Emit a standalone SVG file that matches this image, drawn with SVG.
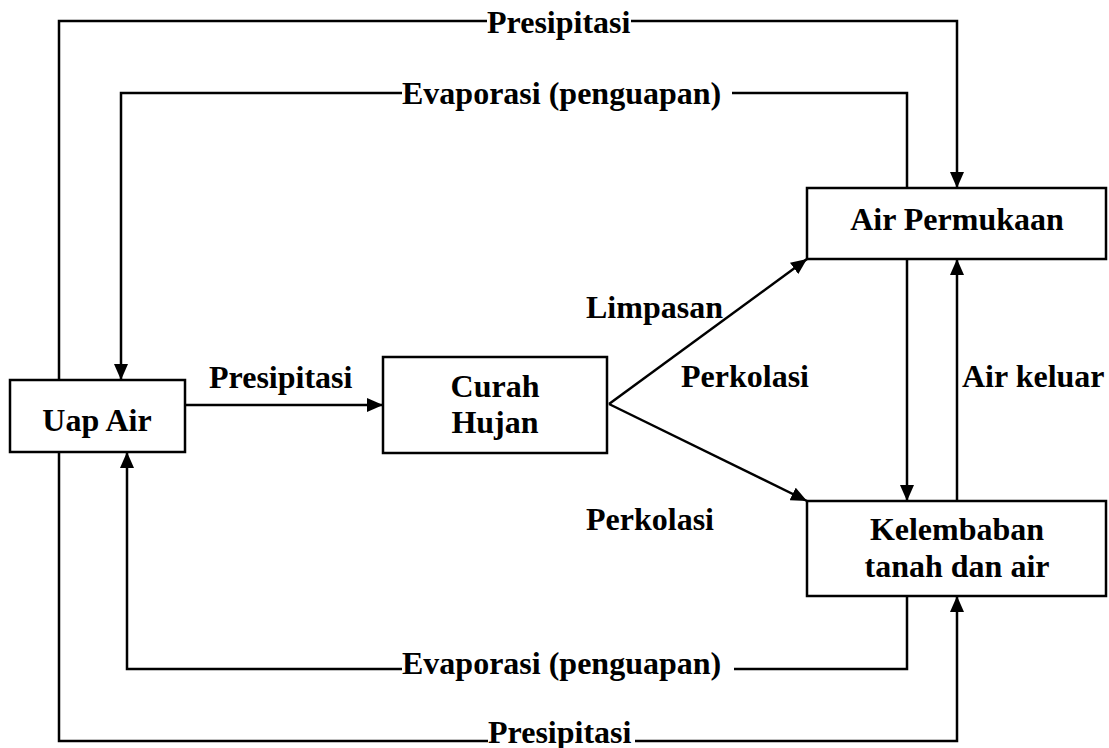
<svg xmlns="http://www.w3.org/2000/svg" width="1109" height="748" viewBox="0 0 1109 748">
<style>
.box{fill:#fff;stroke:#000;stroke-width:2.5}
.ln{fill:none;stroke:#000;stroke-width:2.5}
text{font-family:"Liberation Serif","Times New Roman",serif;font-weight:bold;font-size:32px;fill:#000}
.c{text-anchor:middle}
</style>
<defs>
<marker id="ah" markerUnits="userSpaceOnUse" markerWidth="16" markerHeight="14" refX="16" refY="7" orient="auto">
<path d="M0,0 L16,7 L0,14 z" fill="#000"/>
</marker>
</defs>
<rect width="1109" height="748" fill="#fff"/>
<g id="connectors">
<path class="ln" d="M59,380 V21 H487"/>
<path class="ln" d="M631,21 H957 V188" marker-end="url(#ah)"/>
<path class="ln" d="M907,188 V93 H732"/>
<path class="ln" d="M402,93 H121 V380" marker-end="url(#ah)"/>
<path class="ln" d="M185,405 H383" marker-end="url(#ah)"/>
<path class="ln" d="M609,404 L807,259" marker-end="url(#ah)"/>
<path class="ln" d="M609,404 L807,501" marker-end="url(#ah)"/>
<path class="ln" d="M907,259 V501" marker-end="url(#ah)"/>
<path class="ln" d="M957,501 V259" marker-end="url(#ah)"/>
<path class="ln" d="M907,596 V669 H734"/>
<path class="ln" d="M402,669 H127 V452" marker-end="url(#ah)"/>
<path class="ln" d="M59,452 V741 H488"/>
<path class="ln" d="M635,741 H957 V596" marker-end="url(#ah)"/>
<text x="487" y="33">Presipitasi</text>
<text x="402" y="104">Evaporasi (penguapan)</text>
<text x="209" y="388">Presipitasi</text>
<text x="586" y="318">Limpasan</text>
<text x="681" y="387">Perkolasi</text>
<text x="962" y="387">Air keluar</text>
<text x="586" y="530">Perkolasi</text>
<text x="402" y="674">Evaporasi (penguapan)</text>
<text x="488" y="743">Presipitasi</text>
</g>
<g id="uap-air">
<rect class="box" x="10" y="380" width="175" height="72"/>
<text class="c" x="97" y="431">Uap Air</text>
</g>
<g id="curah-hujan">
<rect class="box" x="383" y="357" width="224" height="96"/>
<text class="c" x="495" y="397">Curah</text>
<text class="c" x="495" y="433">Hujan</text>
</g>
<g id="air-permukaan">
<rect class="box" x="807" y="188" width="299" height="71"/>
<text class="c" x="957" y="230">Air Permukaan</text>
</g>
<g id="kelembaban">
<rect class="box" x="807" y="501" width="299" height="95"/>
<text class="c" x="957" y="540">Kelembaban</text>
<text class="c" x="957" y="577">tanah dan air</text>
</g>
</svg>
